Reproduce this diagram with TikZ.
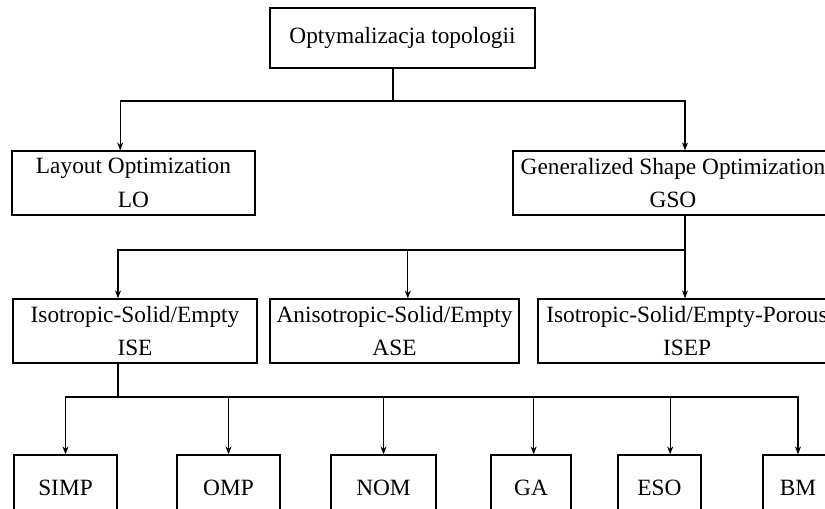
\documentclass[tikz,border=0pt]{standalone}
\usepackage{fontspec}
\setmainfont{Liberation Serif}
\usetikzlibrary{
    arrows.meta,
}
\tikzstyle{block} = [rectangle, draw, line width=0.9pt, align=center,
    inner sep=0pt, minimum height=48pt, font=\fontsize{17.5}{25}\selectfont]
\tikzstyle{leaf} = [block, minimum height=49.5pt]
\tikzstyle{line} = [draw, line width=0.9pt]
\tikzstyle{arrow} = [line, -{Stealth[length=6pt,width=4.5pt]}]

\begin{document}
\begin{tikzpicture}[x=0.75pt, y=-0.75pt]
        \useasboundingbox (0,0) rectangle (825,509);
        \clip (0,0) rectangle (825,509);
        % Place nodes
        \node [block, minimum width=198.75pt, minimum height=45pt] (top) at (402.5,38) {Optymalizacja topologii};
        \node [block, minimum width=182.25pt] (lo) at (133.5,183) {Layout Optimization\\LO};
        \node [block, minimum width=240pt] (gso) at (673,183) {Generalized Shape Optimization\\GSO};
        \node [block, minimum width=183pt] (ise) at (135,331) {Isotropic-Solid/Empty\\ISE};
        \node [block, minimum width=186.75pt] (ase) at (394.5,331) {Anisotropic-Solid/Empty\\ASE};
        \node [block, minimum width=223.5pt] (isep) at (687,331) {Isotropic-Solid/Empty-Porous\\ISEP};
        \node [leaf, minimum width=77.25pt] (simp) at (65.5,488) {SIMP};
        \node [leaf, minimum width=77.25pt] (omp) at (228.5,488) {OMP};
        \node [leaf, minimum width=78.75pt] (nom) at (383.5,488) {NOM};
        \node [leaf, minimum width=60pt] (ga) at (531,488) {GA};
        \node [leaf, minimum width=62.25pt] (eso) at (659.5,488) {ESO};
        \node [leaf, minimum width=52.5pt] (bm) at (798,488) {BM};
        % Junctions
        \coordinate (j1) at (393,101);
        \coordinate (j2) at (685,250);
        \coordinate (j3) at (118,397);
        % Draw edges
        \path [line] (top.south -| j1) -- (j1);
        \path [arrow] (j1) -| ([xshift=-10pt]lo.north);
        \path [arrow] (j1) -| ([xshift=9pt]gso.north);
        \path [line] ([xshift=9pt]gso.south) -- (j2);
        \path [arrow] (j2) -| ([xshift=-12.75pt]ise.north);
        \path [arrow] (j2) -| ([xshift=10pt]ase.north);
        \path [arrow] (j2) -- (isep.north -| j2);
        \path [line] (ise.south -| j3) -- (j3);
        \path [arrow] (j3) -| (simp);
        \path [arrow] (j3) -| (omp);
        \path [arrow] (j3) -| (nom);
        \path [arrow] (j3) -| ([xshift=2pt]ga.north);
        \path [arrow] (j3) -| ([xshift=8pt]eso.north);
        \path [arrow] (j3) -| (bm);
    \end{tikzpicture}
\end{document}
